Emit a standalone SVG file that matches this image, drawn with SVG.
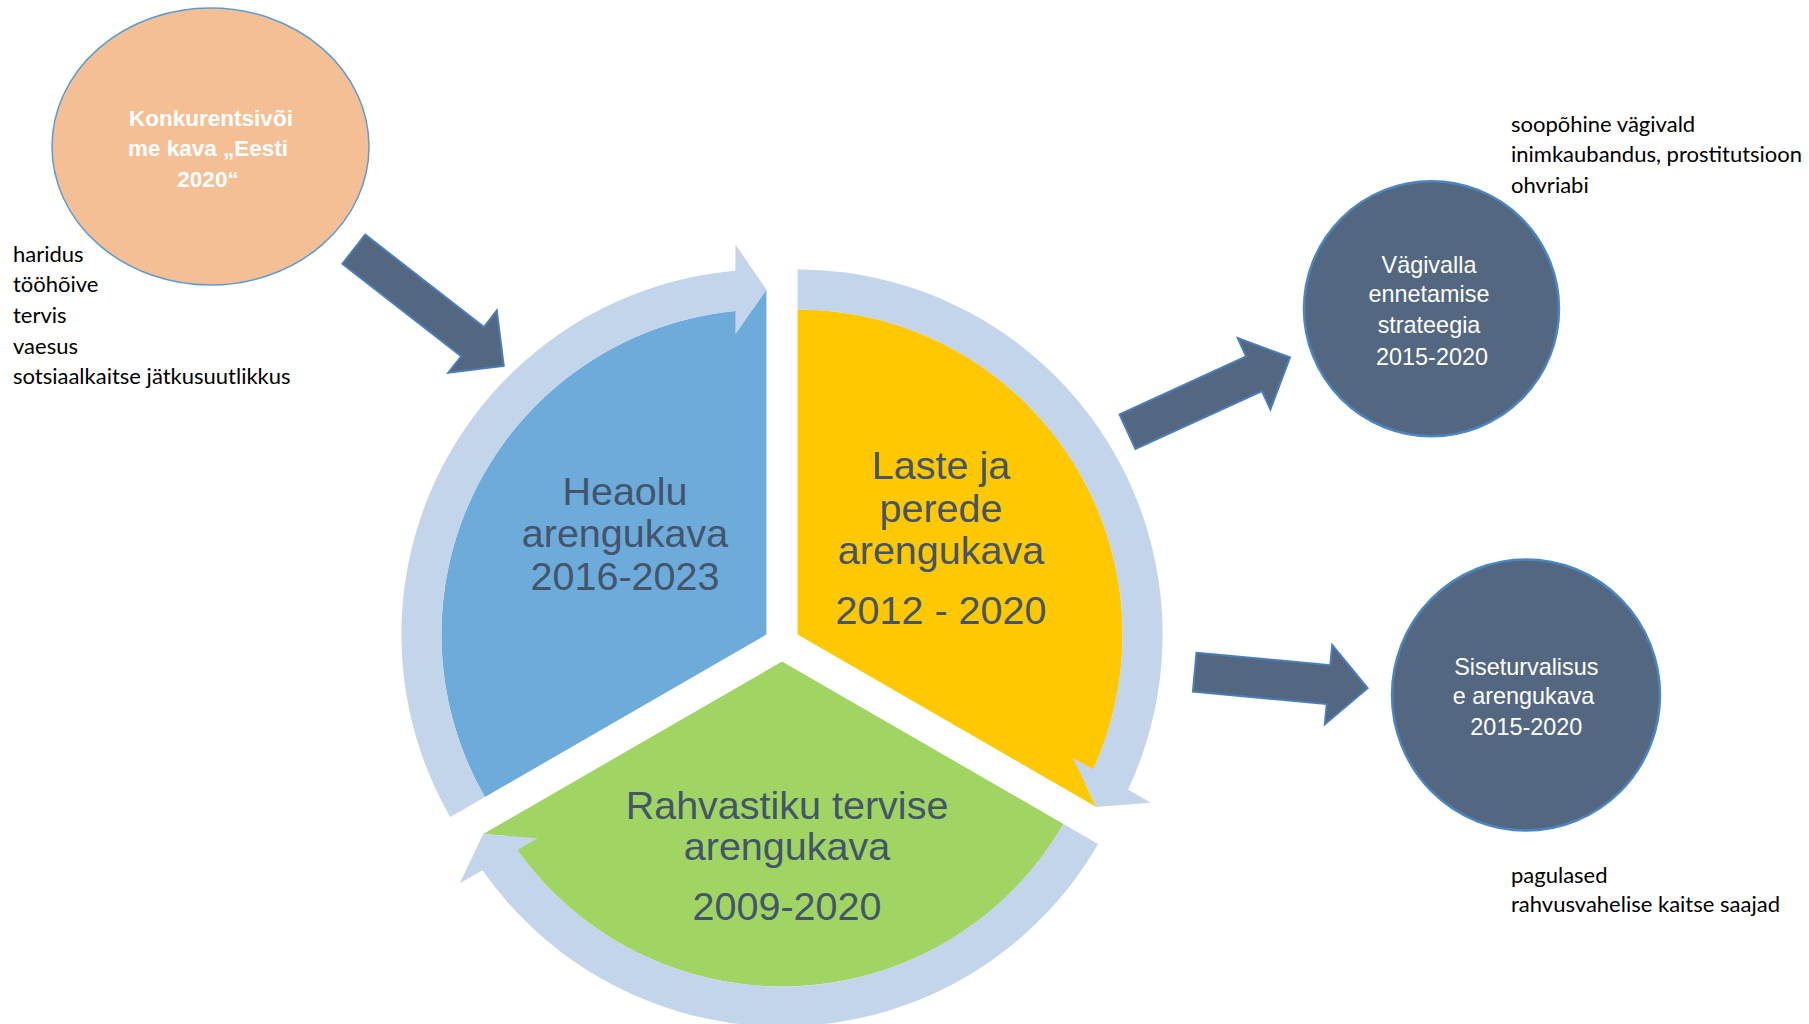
<svg xmlns="http://www.w3.org/2000/svg" width="1809" height="1024" viewBox="0 0 1809 1024">
  <style>
    .pietxt { font-family: "Liberation Sans", Arial, sans-serif; font-size: 39.5px; fill: #44546A; text-anchor: middle; }
    .circtxt { font-family: "Liberation Sans", Arial, sans-serif; font-size: 23.4px; fill: #FFFFFF; text-anchor: middle; }
    .orangetxt { font-family: "Liberation Sans", Arial, sans-serif; font-size: 22.5px; font-weight: bold; fill: #FFFFFF; text-anchor: middle; }
    .note { font-family: Lato, "Open Sans", sans-serif; font-size: 22px; fill: #000000; }
    .ring { fill: #C3D5EB; }
    .darkarrow { fill: #546780; stroke: #4A7EBB; stroke-width: 2; stroke-linejoin: miter; }
    .darkcirc { fill: #546780; stroke: #4A86C0; stroke-width: 2.5; }
  </style>
  <defs>
    <path id="bluePie" d="M 766.41 634.5 L 484.95 797 A 325 325 0 0 1 752.43 309.8 L 766.41 289.5 Z"/>
    <path id="cycleArc" d="M 450.3 817 A 365 365 0 0 1 735.41 270.82 L 735.41 244.5 L 766.41 289.5 L 735.41 334.5 L 735.41 310.98 A 325 325 0 0 0 484.95 797 Z"/>
  </defs>
  <rect width="1809" height="1024" fill="#FFFFFF"/>

  <g id="node-eesti2020">
    <ellipse cx="210.5" cy="146.5" rx="158.5" ry="138.5" fill="#F5BF96" stroke="#5B9BD5" stroke-width="1.5"/>
    <text class="orangetxt" x="211" y="126">Konkurentsivõi</text>
    <text class="orangetxt" x="208" y="156">me kava „Eesti</text>
    <text class="orangetxt" x="208" y="187">2020“</text>
  </g>

  <g id="note-eesti2020">
    <text class="note" x="13" y="262">haridus</text>
    <text class="note" x="13" y="292">tööhõive</text>
    <text class="note" x="13" y="323">tervis</text>
    <text class="note" x="13" y="354">vaesus</text>
    <text class="note" x="13" y="384">sotsiaalkaitse jätkusuutlikkus</text>
  </g>

  <g id="node-heaolu">
    <use href="#bluePie" fill="#6DABDB"/>
    <text class="pietxt" x="625" y="505">Heaolu</text>
    <text class="pietxt" x="625" y="547">arengukava</text>
    <text class="pietxt" x="625" y="590">2016-2023</text>
  </g>

  <g id="node-laste">
    <use href="#bluePie" fill="#FFC800" transform="rotate(120 782 643.5)"/>
    <text class="pietxt" x="941" y="479">Laste ja</text>
    <text class="pietxt" x="941" y="522">perede</text>
    <text class="pietxt" x="941" y="563.5">arengukava</text>
    <text class="pietxt" x="941" y="623.5">2012 - 2020</text>
  </g>

  <g id="node-rahvastik">
    <use href="#bluePie" fill="#A1D563" transform="rotate(240 782 643.5)"/>
    <text class="pietxt" x="787" y="818.5">Rahvastiku tervise</text>
    <text class="pietxt" x="787" y="860">arengukava</text>
    <text class="pietxt" x="787" y="919.5">2009-2020</text>
  </g>

  <g id="node-vagivalla">
    <circle class="darkcirc" cx="1431.5" cy="308.7" r="127.5"/>
    <text class="circtxt" x="1429" y="273.3">Vägivalla</text>
    <text class="circtxt" x="1429" y="301.7">ennetamise</text>
    <text class="circtxt" x="1429" y="332.7">strateegia</text>
    <text class="circtxt" x="1432" y="365">2015-2020</text>
  </g>

  <g id="note-vagivalla">
    <text class="note" x="1511" y="131.7">soopõhine vägivald</text>
    <text class="note" x="1511" y="161.7">inimkaubandus, prostitutsioon</text>
    <text class="note" x="1511" y="192.7">ohvriabi</text>
  </g>

  <g id="node-siseturvalisus">
    <ellipse class="darkcirc" cx="1526" cy="695" rx="134" ry="135.5"/>
    <text class="circtxt" x="1526.3" y="675">Siseturvalisus</text>
    <text class="circtxt" x="1523.5" y="704">e arengukava</text>
    <text class="circtxt" x="1526.3" y="735">2015-2020</text>
  </g>

  <g id="note-siseturvalisus">
    <text class="note" x="1511" y="882.7">pagulased</text>
    <text class="note" x="1511" y="912">rahvusvahelise kaitse saajad</text>
  </g>

  <g id="connectors">
    <use href="#cycleArc" class="ring"/>
    <use href="#cycleArc" class="ring" transform="rotate(120 782 643.5)"/>
    <use href="#cycleArc" class="ring" transform="rotate(240 782 643.5)"/>
    <path class="darkarrow" transform="translate(353.8 249.2) rotate(37.9)" d="M 0 -18.5 L 150.5 -18.5 L 150.5 -39.5 L 190 0 L 150.5 39.5 L 150.5 18.5 L 0 18.5 Z"/>
    <path class="darkarrow" transform="translate(1127.5 431.7) rotate(-24.6)" d="M 0 -19 L 139.2 -19 L 139.2 -39.2 L 178.7 0 L 139.2 39.2 L 139.2 19 L 0 19 Z"/>
    <path class="darkarrow" transform="translate(1194.7 672.2) rotate(5.3)" d="M 0 -19.5 L 134.4 -19.5 L 134.4 -39.7 L 173.7 0 L 134.4 39.7 L 134.4 19.5 L 0 19.5 Z"/>
  </g>
</svg>
